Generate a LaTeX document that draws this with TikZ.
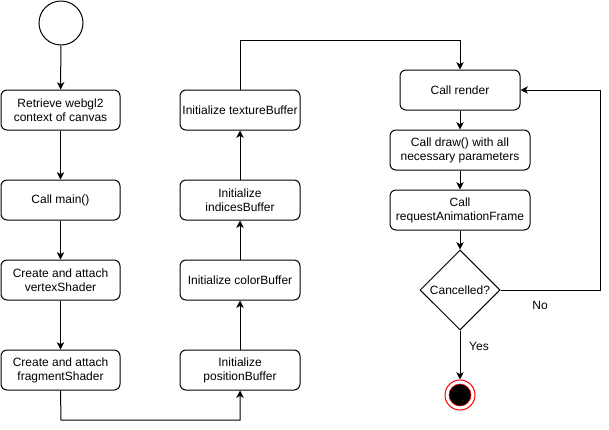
\documentclass[tikz,border=0pt]{standalone}
\usepackage{fontspec}
\setmainfont{Liberation Sans}
\usetikzlibrary{arrows.meta,shapes.geometric}
\begin{document}
\begin{tikzpicture}[x=0.75pt,y=-0.75pt,
  every node/.style={font=\fontsize{9pt}{10.5pt}\selectfont},
  stepbox/.style={draw, rounded corners=4.5pt, line width=0.75pt, align=center, inner sep=0pt, minimum height=30pt},
  conn/.style={line width=0.75pt, -{Stealth[length=5.5pt,width=5.5pt,inset=1.5pt]}},
  plain/.style={line width=0.75pt}]
\useasboundingbox (0,0) rectangle (609,429);
% start
\node[draw, circle, line width=0.75pt, minimum size=33pt, inner sep=0pt] (start) at (61,23) {};
% left column
\node[stepbox, minimum width=89.25pt] (retr) at (60.5,110) {Retrieve webgl2\\context of canvas};
\node[stepbox, minimum width=89.25pt] (main) at (60.5,200) {Call main()};
\node[stepbox, minimum width=89.25pt] (vert) at (60.5,280) {Create and attach\\vertexShader};
\node[stepbox, minimum width=89.25pt] (frag) at (60.5,370) {Create and attach\\fragmentShader};
% middle column
\node[stepbox, minimum width=90pt] (pos) at (240,370) {Initialize\\positionBuffer};
\node[stepbox, minimum width=90pt] (col) at (240,280) {Initialize colorBuffer};
\node[stepbox, minimum width=90pt] (ind) at (240,200) {Initialize\\indicesBuffer};
\node[stepbox, minimum width=90pt] (tex) at (240,110) {Initialize textureBuffer};
% right column
\node[stepbox, minimum width=90pt] (rend) at (460,90) {Call render};
\node[stepbox, minimum width=105pt] (drw) at (460,150) {Call draw() with all\\necessary parameters};
\node[stepbox, minimum width=105pt] (raf) at (460,210) {Call\\requestAnimationFrame};
\node[draw, diamond, aspect=1, line width=0.75pt, minimum size=60pt, inner sep=0pt] (dec) at (460,290) {Cancelled?};
% end
\node[draw=red, circle, line width=0.75pt, minimum size=22.5pt, inner sep=0pt] (fin) at (460,395) {};
\node[draw=red, fill=black, circle, line width=0.4pt, minimum size=16.5pt, inner sep=0pt] (fincore) at (460,395) {};
\coordinate (c1) at (61,420);
\coordinate (c2) at (240,420);
\coordinate (c3) at (240,40);
\coordinate (c4) at (460,40);
\coordinate (c5) at (600,290);
\coordinate (c6) at (600,90);
% connectors
\draw[conn] (start) -- (retr);
\draw[conn] (retr) -- (main);
\draw[conn] (main) -- (vert);
\draw[conn] (vert) -- (frag);
\draw[conn] (frag.south) -- (c1) -- (c2) -- (pos.south);
\draw[conn] (pos) -- (col);
\draw[conn] (col) -- (ind);
\draw[conn] (ind) -- (tex);
\draw[conn] (tex.north) -- (c3) -- (c4) -- (rend.north);
\draw[conn] (rend) -- (drw);
\draw[conn] (drw) -- (raf);
\draw[conn] (raf) -- (dec);
\draw[conn] (dec.south) -- (fin.north);
\draw[conn] (dec.east) -- (c5) -- (c6) -- (rend.east);
% labels
\node (no) at (540,305) {No};
\node (yes) at (479,346) {Yes};
\end{tikzpicture}
\end{document}
